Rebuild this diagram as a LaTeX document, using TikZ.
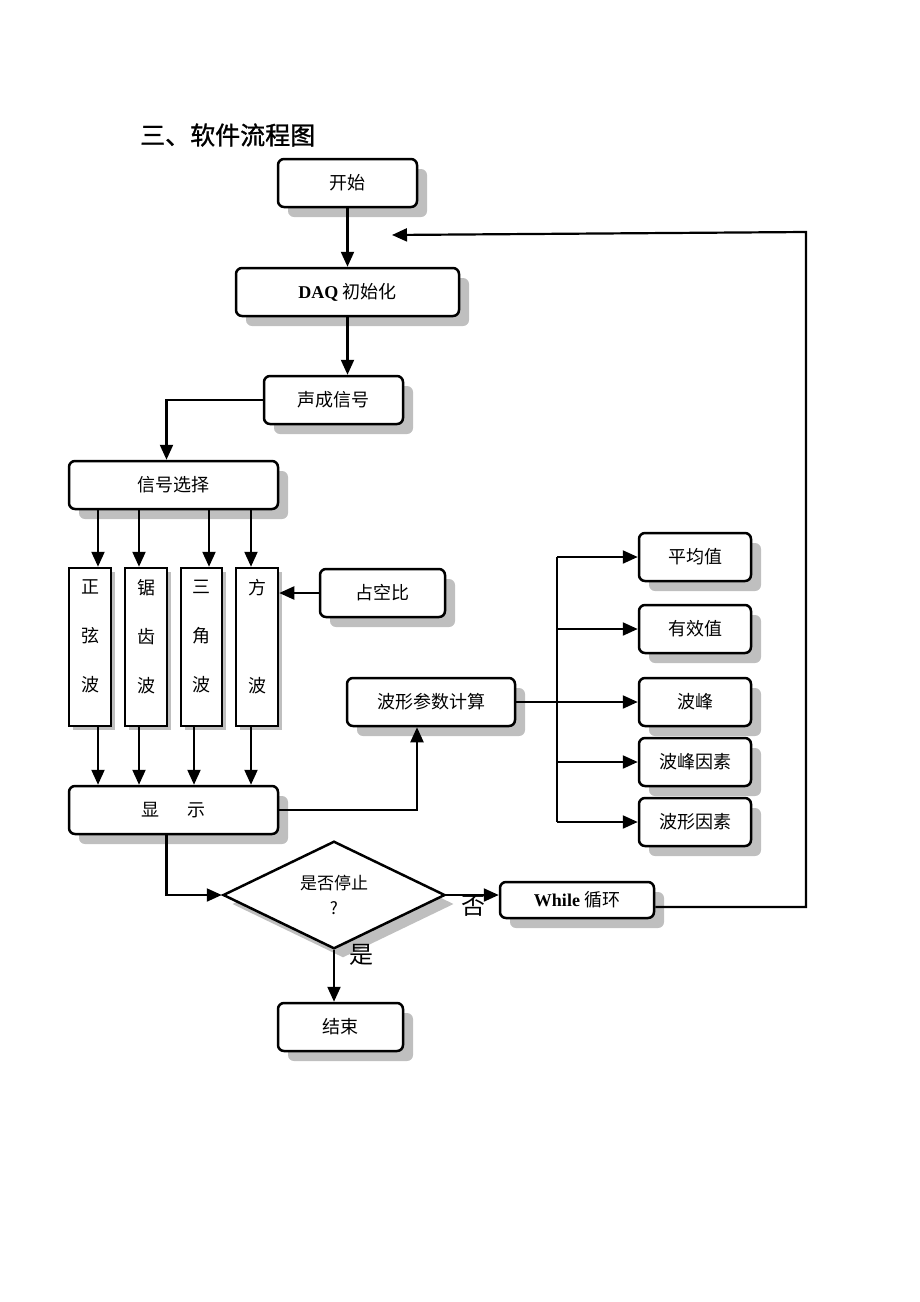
\documentclass[tikz,border=0pt]{standalone}
\usepackage{fontspec}
\setmainfont{Liberation Serif}
\newfontfamily\cjk{Noto Sans CJK SC}
\newfontfamily\cjktitle[FakeBold=1.2]{Noto Sans CJK SC}
\usetikzlibrary{arrows.meta, shapes.geometric, shadows}

\newcommand{\engbf}[1]{{\rmfamily\bfseries #1}}

\tikzset{
  box/.style={draw, line width=2.5pt, rounded corners=6pt, fill=white, inner sep=0pt,
    font=\cjk\fontsize{18}{22}\selectfont,
    drop shadow={shadow xshift=10pt, shadow yshift=-10pt, fill=gray!50, opacity=1}},
  wavebox/.style={draw, line width=2.5pt, fill=white, inner sep=0pt, align=center,
    minimum height=158pt, text depth=22pt,
    font=\cjk\fontsize{18}{49}\selectfont,
    drop shadow={shadow xshift=4pt, shadow yshift=-4pt, fill=gray!50, opacity=1}},
  decision/.style={diamond, draw, line width=2.5pt, fill=white, inner sep=0pt, align=center,
    minimum width=222pt, minimum height=96pt,
    font=\cjk\fontsize{17}{25}\selectfont,
    drop shadow={shadow xshift=9pt, shadow yshift=-9pt, fill=gray!50, opacity=1}},
  arr/.style={line width=2.2pt, -{Triangle[length=15pt, width=13pt]}},
  link/.style={line width=2.2pt},
  answer/.style={font=\cjk\fontsize{24}{26}\selectfont, inner sep=0pt}
}

\begin{document}
\begin{tikzpicture}[x=1pt, y=-1pt]
  \useasboundingbox (0,0) rectangle (920,1302);

  % title
  \node[anchor=west, inner sep=0pt, font=\cjktitle\fontsize{25}{27}\selectfont] (title) at (140,135) {三、软件流程图};

  % main column
  \node[box, minimum width=139pt, minimum height=48pt] (start) at (347.5,183) {开始};
  \node[box, minimum width=223pt, minimum height=48pt] (daq) at (347.5,292) {\engbf{DAQ} 初始化};
  \node[box, minimum width=139pt, minimum height=48pt] (gen) at (333.5,400) {声成信号};
  \node[box, minimum width=209pt, minimum height=48pt] (sel) at (173.5,485) {信号选择};

  % the four waves
  \node[wavebox, minimum width=42pt] (sine) at (90,647) {正\\弦\\波};
  \node[wavebox, minimum width=42pt] (saw) at (146,647) {锯\\齿\\波};
  \node[wavebox, minimum width=41pt] (tri) at (201.5,647) {三\\角\\波};
  \node[wavebox, minimum width=42pt] (sq) at (257,647) {方\\\mbox{}\\波};
  \node[box, minimum width=125pt, minimum height=48pt] (duty) at (382.5,593) {占空比};

  \node[box, minimum width=209pt, minimum height=48pt] (show) at (173.5,810) {显\hspace{28pt}示};
  \node[box, minimum width=168pt, minimum height=48pt] (calc) at (431,702) {波形参数计算};

  % parameters
  \node[box, minimum width=112pt, minimum height=48pt] (avg) at (695,557) {平均值};
  \node[box, minimum width=112pt, minimum height=48pt] (rms) at (695,629) {有效值};
  \node[box, minimum width=112pt, minimum height=48pt] (peak) at (695,702) {波峰};
  \node[box, minimum width=112pt, minimum height=48pt] (cf) at (695,762) {波峰因素};
  \node[box, minimum width=112pt, minimum height=48pt] (ff) at (695,822) {波形因素};

  % decision and end
  \node[decision] (stop) at (334,895) {是否停止\\?};
  \node[box, minimum width=154pt, minimum height=36pt] (while) at (577,900) {\engbf{While} 循环};
  \node[box, minimum width=125pt, minimum height=48pt] (end) at (340.5,1027) {结束};
  \node[answer] (no) at (473,906) {否};
  \node[answer] (yes) at (361,955) {是};

  \coordinate (fork) at (557,702);
  \coordinate (loopTurn) at (806,232);
  \coordinate (back) at (392,235);

  % connectors
  \draw[arr] (start) -- (daq);
  \draw[arr] (daq) -- (daq.south |- gen.north);
  \draw[arr] (gen.west) -| ([xshift=-7pt]sel.north);
  \foreach \b/\u/\d in {sine/8pt/8pt, saw/-7pt/-7pt, tri/7.5pt/-7.5pt, sq/-6pt/-6pt}{
    \draw[arr] ([xshift=\u]\b.north |- sel.south) -- ([xshift=\u]\b.north);
    \draw[arr] ([xshift=\d]\b.south) -- ([xshift=\d]\b.south |- show.north);
  }
  \draw[arr] (duty.west) -- (duty.west -| sq.east);
  \draw[arr] (show.east) -| ([xshift=-14pt]calc.south);
  \draw[link] (calc.east) -- (fork);
  \draw[link] (fork |- avg.west) -- (fork |- ff.west);
  \foreach \b in {avg, rms, peak, cf, ff}{
    \draw[arr] (fork |- \b.west) -- (\b.west);
  }
  \draw[arr] ([xshift=-7pt]show.south) |- (stop.west);
  \draw[arr] (stop.east) -- (stop.east -| while.west);
  \draw[arr] (stop.south) -- (stop.south |- end.north);
  \draw[arr] ([yshift=-7pt]while.east) -| (loopTurn) -- (back);
\end{tikzpicture}
\end{document}
